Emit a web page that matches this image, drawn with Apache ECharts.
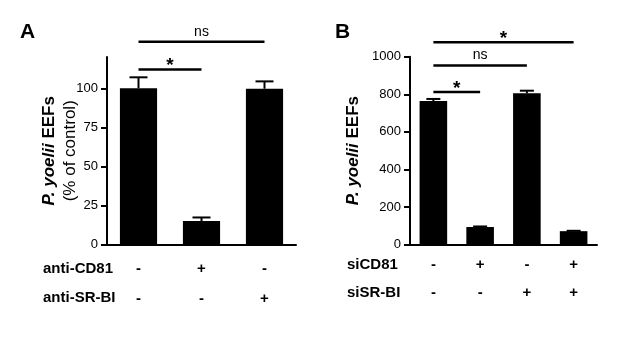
<!DOCTYPE html>
<html>
<head>
<meta charset="utf-8">
<script src="https://cdn.jsdelivr.net/npm/echarts@6/dist/echarts.min.js"></script>
<style>
  html, body { margin: 0; padding: 0; background: #fff; }
  #main { width: 617px; height: 339px; }
</style>
</head>
<body>
<div id="main"></div>
<script>
// 面板A：抗体阻断
var rowA1 = ['-', '+', '-'];          // anti-CD81
var rowA2 = ['-', '-', '+'];          // anti-SR-BI
var valsA = [100, 15, 99.7];          // % of control
var errA  = [107, 17.3, 104.4];       // 误差线上端
var sigA  = [[0, 1, 112, '*'], [0, 2, 129.8, 'ns']];
var ticksA = [0, 25, 50, 75, 100];

// 面板B：siRNA
var rowB1 = ['-', '+', '-', '+'];     // siCD81
var rowB2 = ['-', '-', '+', '+'];     // siSR-BI
var valsB = [764, 93, 805, 71];       // EEF 数
var errB  = [775, 96, 819, 73];
var sigB  = [[0, 1, 812, '*'], [0, 2, 953, 'ns'], [0, 3, 1077, '*']];

var FONT = "'Liberation Sans', Arial, Helvetica, sans-serif";

function idx(n) {
    var r = [];
    for (var i = 0; i < n; i++) r.push(String(i));
    return r;
}

function errorRender(capHalf) {
    return function (params, api) {
        var x = api.value(0);
        var top = api.coord([x, api.value(1)]);
        var hi = api.coord([x, api.value(2)]);
        return {
            type: 'group',
            children: [
                { type: 'line', shape: { x1: top[0], y1: top[1], x2: hi[0], y2: hi[1] }, style: { stroke: '#000', lineWidth: 2 } },
                { type: 'line', shape: { x1: hi[0] - capHalf, y1: hi[1], x2: hi[0] + capHalf, y2: hi[1] }, style: { stroke: '#000', lineWidth: 2 } }
            ]
        };
    };
}

function sigRender(params, api) {
    var p1 = api.coord([api.value(0), api.value(2)]);
    var p2 = api.coord([api.value(1), api.value(2)]);
    var txt = api.value(3);
    var isStar = txt === '*';
    return {
        type: 'group',
        children: [
            { type: 'line', shape: { x1: p1[0], y1: p1[1], x2: p2[0], y2: p2[1] }, style: { stroke: '#000', lineWidth: 2.5 } },
            {
                type: 'text',
                style: {
                    text: txt,
                    x: (p1[0] + p2[0]) / 2,
                    y: p1[1] + (isStar ? 6 : -3),
                    align: 'center',
                    verticalAlign: 'bottom',
                    fontFamily: FONT,
                    fontSize: isStar ? 19 : 14,
                    fontWeight: isStar ? 'bold' : 'normal',
                    fill: '#000'
                }
            }
        ]
    };
}

var chart = echarts.init(document.getElementById('main'));
var option = {
    backgroundColor: '#fff',
    animation: false,
    title: [
        { text: 'A', left: 15, top: 17, textStyle: { fontFamily: FONT, fontSize: 21, fontWeight: 'bold', color: '#000' } },
        { text: 'B', left: 330, top: 17, textStyle: { fontFamily: FONT, fontSize: 21, fontWeight: 'bold', color: '#000' } }
    ],
    graphic: [
        { type: 'text', left: 43, top: 261, style: { text: 'anti-CD81', fontFamily: FONT, fontSize: 15, fontWeight: 'bold', fill: '#000' } },
        { type: 'text', left: 43, top: 290, style: { text: 'anti-SR-BI', fontFamily: FONT, fontSize: 15, fontWeight: 'bold', fill: '#000' } },
        { type: 'text', left: 347, top: 257, style: { text: 'siCD81', fontFamily: FONT, fontSize: 15, fontWeight: 'bold', fill: '#000' } },
        { type: 'text', left: 347, top: 285, style: { text: 'siSR-BI', fontFamily: FONT, fontSize: 15, fontWeight: 'bold', fill: '#000' } }
    ],
    grid: [
        { left: 107, top: 57, width: 189, height: 187.5 },
        { left: 410, top: 56.7, width: 187, height: 187.8 }
    ]
};

option.xAxis = [
    {
        type: 'category', gridIndex: 0, data: idx(rowA1.length),
        axisLine: { lineStyle: { color: '#000', width: 2 } },
        axisTick: { alignWithLabel: true, length: 5, lineStyle: { color: '#000', width: 2 } },
        axisLabel: {
            margin: 9, lineHeight: 30, fontFamily: FONT, fontSize: 15, fontWeight: 'bold', color: '#000',
            formatter: function (v, i) { return rowA1[i] + '\n' + rowA2[i]; }
        }
    },
    {
        type: 'category', gridIndex: 1, data: idx(rowB1.length),
        axisLine: { lineStyle: { color: '#000', width: 2 } },
        axisTick: { alignWithLabel: true, length: 5, lineStyle: { color: '#000', width: 2 } },
        axisLabel: {
            margin: 6, lineHeight: 28, fontFamily: FONT, fontSize: 15, fontWeight: 'bold', color: '#000',
            formatter: function (v, i) { return rowB1[i] + '\n' + rowB2[i]; }
        }
    }
];

option.yAxis = [
    {
        type: 'value', gridIndex: 0, min: 0, max: 120, interval: 20,
        axisLine: { show: true, lineStyle: { color: '#000', width: 2 } },
        axisTick: { show: true, length: 6, lineStyle: { color: '#000', width: 2 }, customValues: ticksA },
        axisLabel: { margin: 9, fontFamily: FONT, fontSize: 13, color: '#000', customValues: ticksA },
        splitLine: { show: false },
        name: '{i|P. yoelii}{b| EEFs}\n{n|(% of control)}',
        nameLocation: 'middle', nameRotate: 90, nameGap: 26, nameMoveOverlap: false,
        nameTextStyle: {
            lineHeight: 21,
            rich: {
                i: { fontFamily: FONT, fontSize: 17, fontWeight: 'bold', fontStyle: 'italic', color: '#000', lineHeight: 21 },
                b: { fontFamily: FONT, fontSize: 17, fontWeight: 'bold', color: '#000', lineHeight: 21 },
                n: { fontFamily: FONT, fontSize: 17, color: '#000', lineHeight: 21 }
            }
        }
    },
    {
        type: 'value', gridIndex: 1, min: 0, max: 1000, interval: 200,
        axisLine: { show: true, lineStyle: { color: '#000', width: 2 } },
        axisTick: { show: true, length: 6, lineStyle: { color: '#000', width: 2 } },
        axisLabel: { margin: 9, fontFamily: FONT, fontSize: 13, color: '#000', formatter: function (v) { return String(v); } },
        splitLine: { show: false },
        name: '{i|P. yoelii}{b| EEFs}',
        nameLocation: 'middle', nameRotate: 90, nameGap: 48, nameMoveOverlap: false,
        nameTextStyle: {
            rich: {
                i: { fontFamily: FONT, fontSize: 17, fontWeight: 'bold', fontStyle: 'italic', color: '#000' },
                b: { fontFamily: FONT, fontSize: 17, fontWeight: 'bold', color: '#000' }
            }
        }
    }
];

option.series = [
    { type: 'bar', xAxisIndex: 0, yAxisIndex: 0, data: valsA, barCategoryGap: '41%', itemStyle: { color: '#000' } },
    {
        type: 'custom', xAxisIndex: 0, yAxisIndex: 0, clip: false,
        data: valsA.map(function (v, i) { return [i, v, errA[i]]; }),
        renderItem: errorRender(9)
    },
    {
        type: 'custom', xAxisIndex: 0, yAxisIndex: 0, clip: false,
        encode: { x: 0, y: 2 },
        data: sigA,
        renderItem: sigRender
    },
    { type: 'bar', xAxisIndex: 1, yAxisIndex: 1, data: valsB, barCategoryGap: '41%', itemStyle: { color: '#000' } },
    {
        type: 'custom', xAxisIndex: 1, yAxisIndex: 1, clip: false,
        data: valsB.map(function (v, i) { return [i, v, errB[i]]; }),
        renderItem: errorRender(7)
    },
    {
        type: 'custom', xAxisIndex: 1, yAxisIndex: 1, clip: false,
        encode: { x: 0, y: 2 },
        data: sigB,
        renderItem: sigRender
    }
];

chart.setOption(option);
</script>
</body>
</html>
